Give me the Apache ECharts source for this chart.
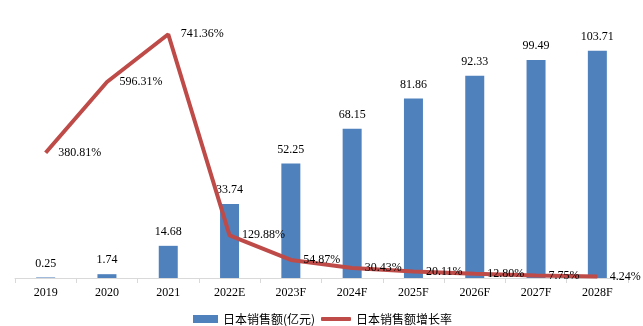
<!DOCTYPE html>
<html><head><meta charset="utf-8">
<script src="https://cdn.jsdelivr.net/npm/echarts@6/dist/echarts.min.js"></script>
<style>html,body{margin:0;padding:0;background:#fff}#c{width:643px;height:326px}</style>
</head><body><div id="c"></div>
<script>
const categories = ['2019','2020','2021','2022E','2023F','2024F','2025F','2026F','2027F','2028F'];
const sales = [0.25, 1.74, 14.68, 33.74, 52.25, 68.15, 81.86, 92.33, 99.49, 103.71];
const growth = [380.81, 596.31, 741.36, 129.88, 54.87, 30.43, 20.11, 12.80, 7.75, 4.24];
const salesName = '日本销售额(亿元)';
const growthName = '日本销售额增长率';

const serif = '"Liberation Serif","Times New Roman",serif';
const chart = echarts.init(document.getElementById('c'));
chart.setOption({
  animation: false,
  grid: {left: 15, right: 15, top: 15, bottom: 48},
  legend: [{
    data: [{name: salesName, icon: 'rect'}],
    left: 193, top: 313, itemWidth: 25, itemHeight: 8, padding: 0,
    textStyle: {fontFamily: '"Noto Sans CJK SC"', fontSize: 12, color: '#000'}
  }, {
    data: [{name: growthName, icon: 'roundRect', itemStyle: {color: '#BE4B48', opacity: 1}}],
    left: 321, top: 313, itemWidth: 30, itemHeight: 4, padding: 0,
    textStyle: {fontFamily: '"Noto Sans CJK SC"', fontSize: 12, color: '#000'}
  }],
  xAxis: {
    type: 'category', data: categories,
    axisLine: {lineStyle: {color: '#d9d9d9'}},
    axisTick: {show: true, alignWithLabel: false, length: 5, lineStyle: {color: '#d9d9d9'}},
    axisLabel: {color: '#000', fontFamily: serif, fontSize: 12, margin: 9}
  },
  yAxis: [
    {type: 'value', min: 0, max: 120, show: false, splitLine: {show: false}},
    {type: 'value', min: 0, max: 800, show: false, splitLine: {show: false}}
  ],
  series: [{
    name: salesName, type: 'bar', data: sales, barWidth: 19,
    itemStyle: {color: '#4F81BD'},
    label: {show: true, position: 'top', distance: 8, color: '#000', fontFamily: serif, fontSize: 12}
  }, {
    name: growthName, type: 'line', yAxisIndex: 1, data: growth,
    symbol: 'circle', symbolSize: 1, showSymbol: true,
    lineStyle: {color: '#BE4B48', width: 4},
    itemStyle: {color: 'rgba(0,0,0,0)'},
    label: {show: true, position: 'right', distance: 12, color: '#000', fontFamily: serif, fontSize: 12,
      formatter: p => p.value.toFixed(2) + '%'}
  }]
});
</script></body></html>
